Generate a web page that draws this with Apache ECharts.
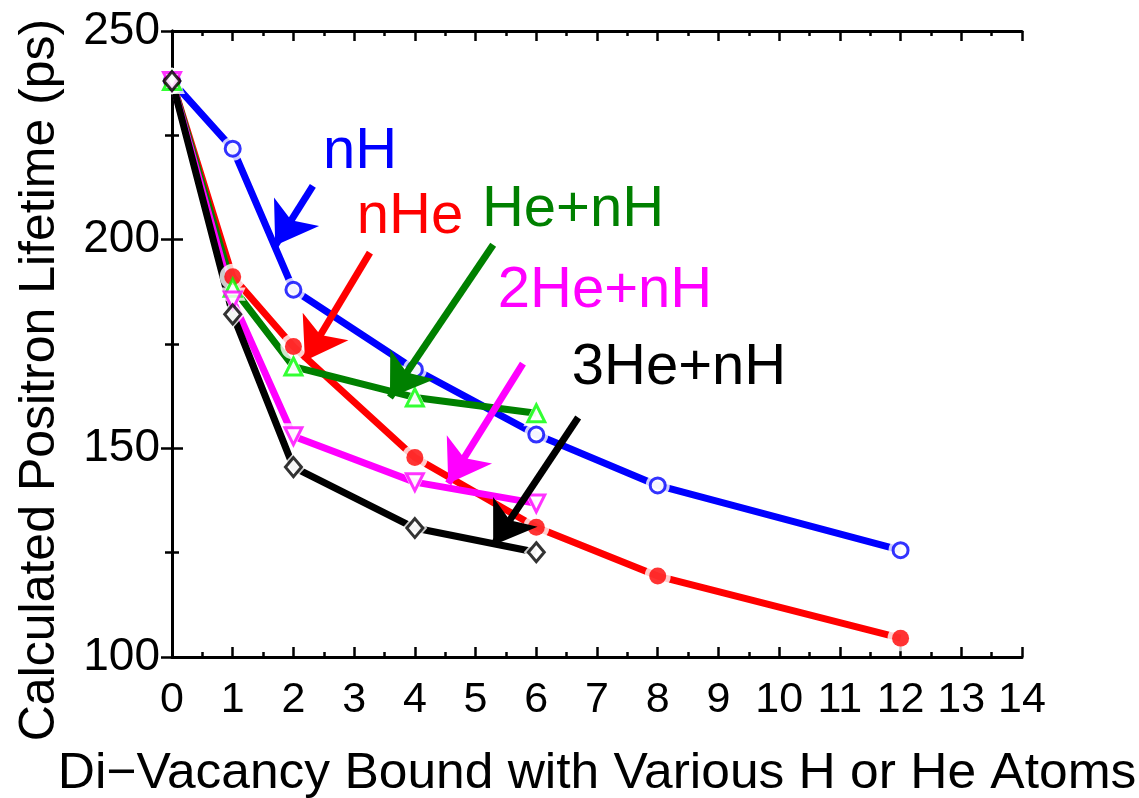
<!DOCTYPE html>
<html>
<head>
<meta charset="utf-8">
<script src="https://cdn.jsdelivr.net/npm/echarts@6/dist/echarts.min.js"></script>
<style>
  html, body { margin: 0; padding: 0; background: #fff; }
  #chart { width: 1139px; height: 798px; }
</style>
</head>
<body>
<div id="chart"></div>
<script>
// Number of H / He atoms bound to the di-vacancy
const xLong = [0, 1, 2, 4, 6, 8, 12];
const xShort = [0, 1, 2, 4, 6];

// Calculated positron lifetimes (ps)
const lifeNH    = [238, 221.8, 188.0, 168.9, 153.3, 141.1, 125.6];
const lifeNHe   = [238, 191.1, 174.4, 147.8, 131.1, 119.4, 104.5];
const lifeHeNH  = [238, 188.5, 169.6, 162.2, 158.4];
const life2HeNH = [238, 185.4, 152.9, 141.9, 136.8];
const life3HeNH = [238, 182.1, 145.5, 130.9, 125.1];

// Curve labels
const labelNames = ['nH', 'nHe', 'He+nH', '2He+nH', '3He+nH'];

// Pointer arrows: [tail, tip] in data units
const arrowNH    = [[2.32, 212.9], [1.70, 198.6]];
const arrowNHe   = [[3.26, 196.9], [2.19, 171.0]];
const arrowHeNH  = [[5.29, 198.8], [3.59, 162.2]];
const arrow2HeNH = [[5.78, 170.3], [4.55, 141.6]];
const arrow3HeNH = [[6.69, 157.4], [5.29, 126.8]];

const FONT = '"Liberation Sans", Arial, sans-serif';

function pairs(xs, ys) { return xs.map((x, i) => [x, ys[i]]); }

const curves = [
  { name: 'nH', data: pairs(xLong, lifeNH), line: '#0000ff', mark: '#0000ff',
    symbol: 'circle', size: 15, filled: false, arrow: arrowNH },
  { name: 'nHe', data: pairs(xLong, lifeNHe), line: '#ff0000', mark: '#ff0000',
    symbol: 'circle', size: 17, filled: true, arrow: arrowNHe },
  { name: 'He+nH', data: pairs(xShort, lifeHeNH), line: '#008000', mark: '#00ff00',
    symbol: 'triangle', size: 17, filled: false, arrow: arrowHeNH },
  { name: '2He+nH', data: pairs(xShort, life2HeNH), line: '#ff00ff', mark: '#ff00ff',
    symbol: 'path://M0,0 L10,0 L5,9 Z', size: 17, filled: false, arrow: arrow2HeNH },
  { name: '3He+nH', data: pairs(xShort, life3HeNH), line: '#000000', mark: '#000000',
    symbol: 'diamond', size: [16, 19], filled: false, arrow: arrow3HeNH }
];

function grow(s, d) { return Array.isArray(s) ? [s[0] + d, s[1] + d] : s + d; }

const series = [];
// connecting lines
curves.forEach(c => {
  series.push({
    type: 'line', name: c.name, data: c.data, z: 2,
    showSymbol: false, symbol: 'none',
    lineStyle: { color: c.line, width: 7 },
    silent: true
  });
});
// white clearance around each marker
curves.forEach(c => {
  series.push({
    type: 'scatter', data: c.data, z: 3, silent: true,
    symbol: c.symbol, symbolSize: grow(c.size, 9),
    itemStyle: { color: '#ffffff' }
  });
});
// markers
curves.forEach(c => {
  series.push({
    type: 'scatter', data: c.data, z: 4, silent: true,
    symbol: c.symbol, symbolSize: c.size,
    itemStyle: c.filled
      ? { color: c.mark }
      : { color: '#ffffff', borderColor: c.mark, borderWidth: 3 }
  });
});
// arrows
curves.forEach(c => {
  series.push({
    type: 'line', data: [], z: 5, silent: true,
    markLine: {
      silent: true, animation: false,
      symbol: ['none', 'arrow'], symbolSize: 40,
      label: { show: false },
      lineStyle: { color: c.line, width: 7, type: 'solid' },
      data: [[{ coord: c.arrow[0] }, { coord: c.arrow[1] }]]
    }
  });
});

const axisLineStyle = { show: true, lineStyle: { color: '#000', width: 3 } };
const tickStyle = { color: '#000', width: 2.5 };

function xAxisDef(pos, labels) {
  return {
    type: 'value', min: 0, max: 14, interval: 1, position: pos,
    axisLine: axisLineStyle,
    axisTick: { show: true, inside: true, length: 10, lineStyle: tickStyle },
    minorTick: { show: true, splitNumber: 2, length: 5, lineStyle: tickStyle },
    splitLine: { show: false },
    axisLabel: labels
      ? { color: '#000', fontFamily: FONT, fontSize: 43, margin: 22 }
      : { show: false }
  };
}
function yAxisDef(pos, labels) {
  return {
    type: 'value', min: 100, max: 250, interval: 50, position: pos,
    axisLine: axisLineStyle,
    axisTick: { show: true, inside: true, length: 11, lineStyle: tickStyle },
    minorTick: { show: true, splitNumber: 2, length: 7, lineStyle: tickStyle },
    splitLine: { show: false },
    axisLabel: labels
      ? { color: '#000', fontFamily: FONT, fontSize: 46, margin: 12 }
      : { show: false }
  };
}

const option = {
  animation: false,
  backgroundColor: '#ffffff',
  grid: { left: 172, top: 31, right: 117, bottom: 141, containLabel: false },
  xAxis: [xAxisDef('bottom', true), xAxisDef('top', false)],
  yAxis: [yAxisDef('left', true), yAxisDef('right', false)],
  series: series,
  graphic: [
    { type: 'text', x: 40, y: 380, rotation: Math.PI / 2, silent: true,
      style: { text: 'Calculated Positron Lifetime (ps)', fill: '#000', font: '50px ' + FONT,
               align: 'center', verticalAlign: 'middle' } },
    { type: 'text', x: 597, y: 774, silent: true, scaleX: 1.03,
      style: { text: 'Di\u2212Vacancy Bound with Various H or He Atoms', fill: '#000', font: '50px ' + FONT,
               align: 'center', verticalAlign: 'middle' } },
    { type: 'text', x: 360, y: 152, silent: true,
      style: { text: labelNames[0], fill: '#0000ff', font: '58px ' + FONT, align: 'center', verticalAlign: 'middle' } },
    { type: 'text', x: 410, y: 217, silent: true,
      style: { text: labelNames[1], fill: '#ff0000', font: '58px ' + FONT, align: 'center', verticalAlign: 'middle' } },
    { type: 'text', x: 573, y: 210, silent: true,
      style: { text: labelNames[2], fill: '#008000', font: '58px ' + FONT, align: 'center', verticalAlign: 'middle' } },
    { type: 'text', x: 605, y: 291, silent: true,
      style: { text: labelNames[3], fill: '#ff00ff', font: '58px ' + FONT, align: 'center', verticalAlign: 'middle' } },
    { type: 'text', x: 679, y: 368, silent: true,
      style: { text: labelNames[4], fill: '#000000', font: '58px ' + FONT, align: 'center', verticalAlign: 'middle' } }
  ]
};

const chart = echarts.init(document.getElementById('chart'), null, { renderer: 'canvas' });
chart.setOption(option);
</script>
</body>
</html>
